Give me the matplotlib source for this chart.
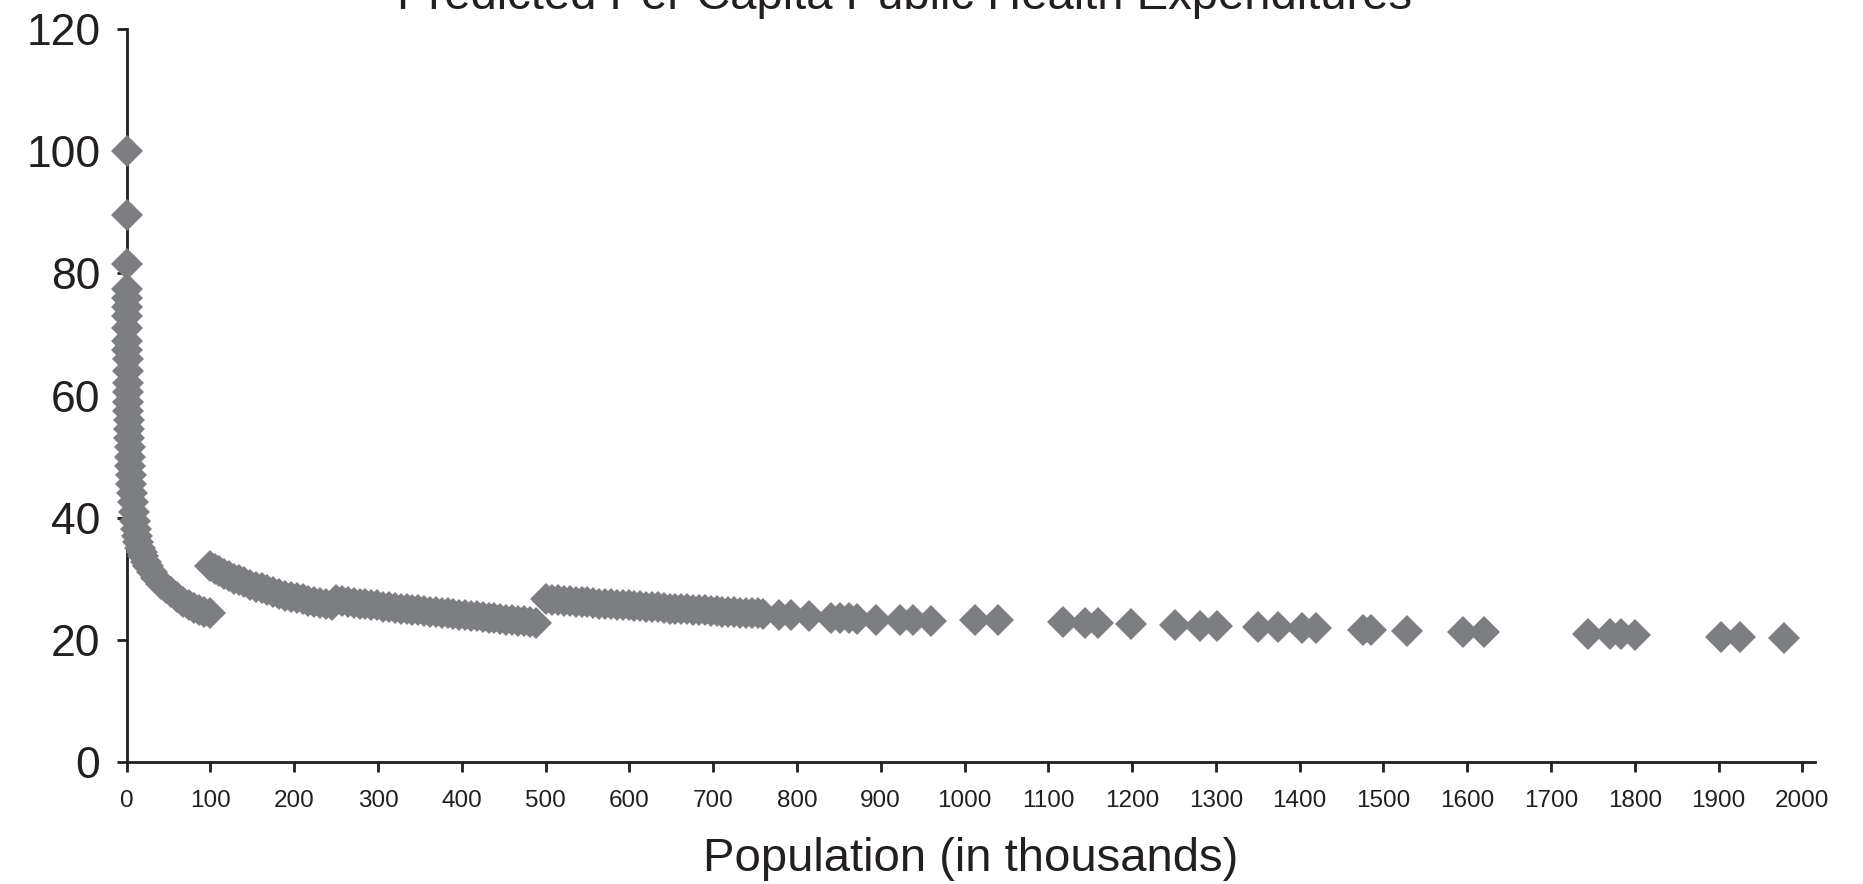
import matplotlib
matplotlib.use("Agg")
import matplotlib.pyplot as plt
import numpy as np

# Population (thousands) and predicted per-capita expenditure
# segment 1: smallest jurisdictions (0-100k)
seg1_x = [0.15, 0.25, 0.35, 0.45, 0.5, 0.55, 0.6, 0.7, 0.8, 0.9, 1.0, 1.2, 1.4, 1.6,
          1.8, 2.0, 2.3, 2.6, 3.0, 3.4, 3.9, 4.4, 5.0, 5.7, 6.5, 7.4, 8.5, 9.8,
          11, 12.5, 14, 16, 18, 20, 23, 26, 30, 35, 41, 47, 53, 60, 67, 74,
          80, 86, 92, 99]
seg1_y = [100, 89.5, 81.5, 77.5, 76, 74.5, 73, 71, 69, 67.5, 66, 64, 62, 60.5,
          59, 57.5, 56, 54.5, 53, 51.5, 50, 48.5, 47, 45.5, 44, 42.5, 41, 39.5,
          38.2, 37, 36, 35, 34.3, 33.7, 32.8, 32.0, 31.1, 30.1, 29.2, 28.5, 27.8, 27.0, 26.2, 25.6,
          25.2, 24.9, 24.6, 24.3]

# segment 2: 100k-250k
seg2_x = [100, 105, 110, 116, 122, 128, 134, 140, 147, 154, 161, 168, 175, 182,
          189, 196, 203, 210, 217, 224, 231, 238, 245]
seg2_y = [32.0, 31.6, 31.2, 30.8, 30.4, 30.0, 29.7, 29.4, 29.0, 28.7, 28.4, 28.1,
          27.8, 27.5, 27.2, 27.0, 26.8, 26.6, 26.4, 26.2, 26.0, 25.8, 25.6]

# segment 3: 250k-500k
seg3_x = [250, 257, 264, 271, 278, 285, 292, 299, 306, 313, 320, 327, 334, 341,
          348, 355, 362, 369, 376, 383, 390, 397, 404, 411, 418, 425, 432, 439,
          446, 453, 460, 467, 474, 481, 488]
seg3_y = [26.5, 26.3, 26.1, 26.0, 25.9, 25.8, 25.7, 25.6, 25.4, 25.3, 25.2, 25.1,
          25.0, 24.9, 24.8, 24.7, 24.6, 24.5, 24.4, 24.3, 24.2, 24.1, 24.0, 23.9,
          23.8, 23.7, 23.6, 23.5, 23.4, 23.3, 23.2, 23.1, 23.0, 22.9, 22.8]

# segment 4: 500k-760k
seg4_x = [501, 508, 515, 522, 529, 536, 543, 550, 557, 564, 571, 578, 585, 592,
          599, 606, 613, 620, 627, 634, 641, 648, 655, 662, 669, 676, 683, 690,
          697, 704, 711, 718, 725, 732, 739, 746, 753, 760]
seg4_y = [26.6, 26.5, 26.5, 26.4, 26.3, 26.2, 26.2, 26.1, 26.0, 25.9, 25.9, 25.8,
          25.7, 25.7, 25.6, 25.5, 25.5, 25.4, 25.3, 25.3, 25.2, 25.1, 25.1, 25.0,
          25.0, 24.9, 24.8, 24.8, 24.7, 24.7, 24.6, 24.5, 24.5, 24.4, 24.4, 24.3,
          24.3, 24.2]

# large jurisdictions, individual points
big_x = [779, 793, 814, 841, 851, 862, 872, 894, 923, 939, 960, 1013, 1040,
         1117, 1144, 1159, 1199, 1251, 1281, 1301, 1350, 1374, 1403, 1419,
         1475, 1485, 1528, 1595, 1620, 1744, 1770, 1784, 1800, 1903, 1925, 1978]
big_y = [24.0, 24.0, 23.8, 23.6, 23.5, 23.5, 23.4, 23.3, 23.2, 23.2, 23.1, 23.3,
         23.2, 22.9, 22.8, 22.8, 22.6, 22.4, 22.2, 22.2, 22.0, 22.0, 21.9, 21.9,
         21.6, 21.6, 21.5, 21.3, 21.2, 20.9, 20.9, 20.9, 20.8, 20.5, 20.5, 20.3]

x_ticks = list(range(0, 2001, 100))
y_ticks = [0, 20, 40, 60, 80, 100, 120]

MARKER_COLOR = '#7d7e82'
TEXT_COLOR = '#231f20'

plt.rcParams['font.family'] = ['Liberation Sans', 'DejaVu Sans']

fig = plt.figure(figsize=(18.63, 8.84), dpi=100)
ax = fig.add_axes([0.068, 0.1383, 0.9062, 0.8285])

for xs, ys in [(seg1_x, seg1_y), (seg2_x, seg2_y), (seg3_x, seg3_y),
               (seg4_x, seg4_y), (big_x, big_y)]:
    ax.plot(xs, ys, linestyle='none', marker='D', markersize=16,
            color=MARKER_COLOR, markeredgewidth=0, clip_on=False, zorder=3)

ax.set_xlim(0, 2015)
ax.set_ylim(0, 120)
ax.set_xticks(x_ticks)
ax.set_yticks(y_ticks)
ax.set_xticklabels([str(t) for t in x_ticks], fontsize=17.5, color=TEXT_COLOR)
ax.set_yticklabels([str(t) for t in y_ticks], fontsize=32, color=TEXT_COLOR)

for side in ['top', 'right']:
    ax.spines[side].set_visible(False)
for side in ['left', 'bottom']:
    ax.spines[side].set_linewidth(2)
    ax.spines[side].set_color(TEXT_COLOR)

ax.tick_params(axis='x', direction='out', length=7, width=2, pad=13, color=TEXT_COLOR)
ax.tick_params(axis='y', direction='out', length=7, width=2, pad=12, color=TEXT_COLOR)

ax.set_xlabel('Population (in thousands)', fontsize=34, color=TEXT_COLOR, labelpad=18)

# title sits partly above the image edge in the original
fig.text(905 / 1863, 1 - 9 / 884, 'Predicted Per Capita Public Health Expenditures',
         fontsize=34, color=TEXT_COLOR, ha='center', va='baseline')

fig.savefig('out.png', dpi=100)
